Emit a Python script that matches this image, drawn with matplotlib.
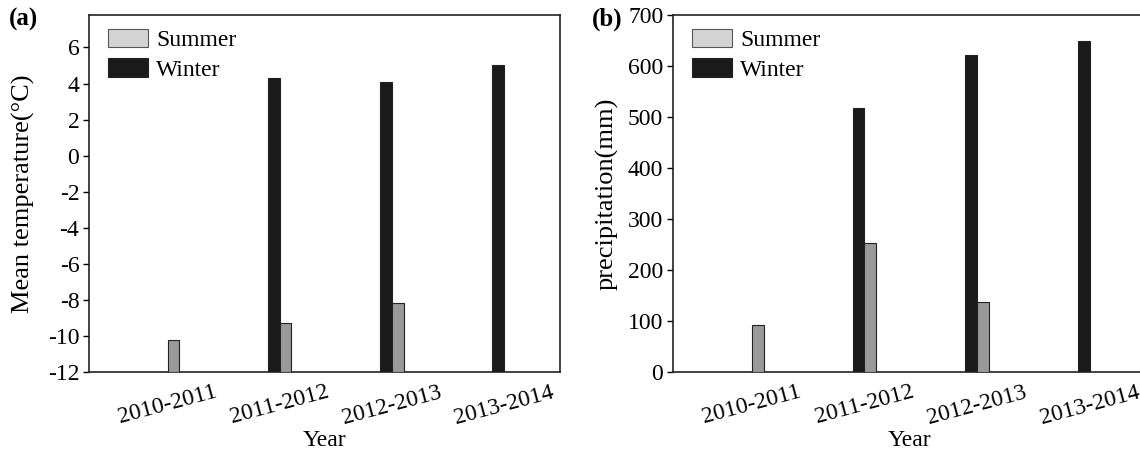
import numpy as np
import matplotlib
matplotlib.use("Agg")
import matplotlib.pyplot as plt
from matplotlib.patches import Patch

# Seasonal data per hydrological year
years = ["2010-2011", "2011-2012", "2012-2013", "2013-2014"]
temp_summer = [-10.2, -9.3, -8.2, np.nan]
temp_winter = [np.nan, 4.3, 4.1, 5.05]
precip_summer = [92, 253, 138, np.nan]
precip_winter = [np.nan, 518, 622, 649]

temp_ticks = [-12, -10, -8, -6, -4, -2, 0, 2, 4, 6]
precip_ticks = [0, 100, 200, 300, 400, 500, 600, 700]

WINTER = "#1a1a1a"
SUMMER = "#999999"
SUMMER_LEGEND = "#d4d4d4"
BAR_W = 0.105

plt.rcParams['font.family'] = ['Liberation Serif', 'DejaVu Serif']

fig = plt.figure(figsize=(11.4, 4.53), dpi=100)
ax1 = fig.add_axes([89 / 1140, 81 / 453, 471 / 1140, 357 / 453])
ax2 = fig.add_axes([673 / 1140, 81 / 453, 473 / 1140, 357 / 453])


def draw_panel(ax, summer, winter, base, top, ticks, ylabel, ypad, tag, tag_x):
    x = np.arange(len(years))
    s = np.array(summer, dtype=float)
    w = np.array(winter, dtype=float)
    ms = ~np.isnan(s)
    mw = ~np.isnan(w)
    ax.bar(x[mw] - BAR_W / 2, w[mw] - base, bottom=base, width=BAR_W,
           color=WINTER, edgecolor="#222222", linewidth=0.8, zorder=3)
    ax.bar(x[ms] + BAR_W / 2, s[ms] - base, bottom=base, width=BAR_W,
           color=SUMMER, edgecolor="#222222", linewidth=0.8, zorder=3)
    ax.set_xlim(-0.7, 3.5)
    ax.set_ylim(base, top)
    ax.set_yticks(ticks)
    ax.set_yticklabels([str(t) for t in ticks])
    ax.set_xticks(x)
    ax.set_xticklabels(years, rotation=15, ha="center", fontsize=17)
    ax.tick_params(axis="x", length=0, pad=7)
    ax.tick_params(axis="y", direction="out", length=4, width=1,
                   labelsize=17, pad=3)
    for sp in ax.spines.values():
        sp.set_linewidth(1.2)
        sp.set_color("#222222")
    ax.set_xlabel("Year", fontsize=17, labelpad=1)
    ax.set_ylabel(ylabel, fontsize=19, labelpad=ypad)
    handles = [Patch(facecolor=SUMMER_LEGEND, edgecolor="#555555", lw=0.8),
               Patch(facecolor=WINTER, edgecolor="#222222", lw=0.8)]
    ax.legend(handles, ["Summer", "Winter"], loc="upper left",
              bbox_to_anchor=(0.01, 1.0),
              frameon=False, fontsize=17, handlelength=1.7, handleheight=0.8,
              handletextpad=0.35, labelspacing=0.3,
              borderpad=0.3, borderaxespad=0.3)
    fig.text(tag_x, 1 - 19 / 453, tag, fontsize=18, fontweight="bold",
             va="center", ha="left")


draw_panel(ax1, temp_summer, temp_winter, -12, 7.8, temp_ticks,
           "Mean temperature(°C)", 9, "(a)", 9 / 1140)
draw_panel(ax2, precip_summer, precip_winter, 0, 700, precip_ticks,
           "precipitation(mm)", 7, "(b)", 592 / 1140)

fig.savefig("out.png", dpi=100)
